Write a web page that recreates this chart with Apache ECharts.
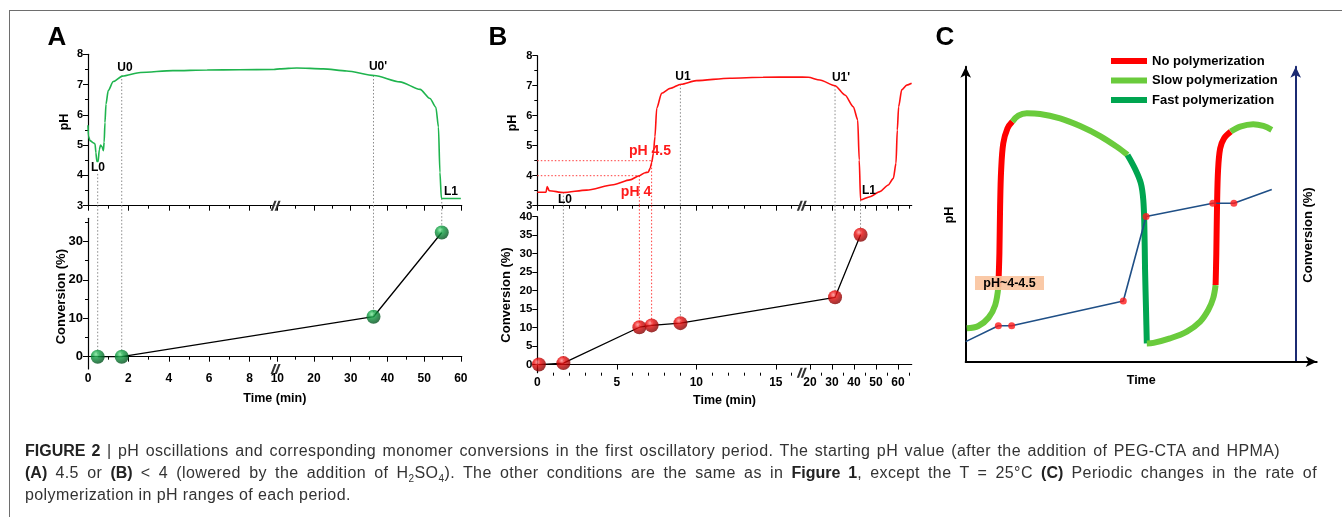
<!DOCTYPE html>
<html>
<head>
<meta charset="UTF-8">
<title>Figure 2 - pH oscillations</title>
<script src="https://cdn.jsdelivr.net/npm/echarts@6/dist/echarts.min.js"></script>
<style>
html, body { margin: 0; padding: 0; background: #fff; }
#wrap { position: relative; width: 1342px; height: 517px; overflow: hidden; }
#main { position: absolute; left: 0; top: 0; width: 1342px; height: 517px; }
#frame { position: absolute; left: 9px; top: 10px; width: 1400px; height: 600px;
         border-top: 1px solid #6e6e6e; border-left: 1px solid #6e6e6e; }
#caption { position: absolute; left: 25px; top: 440px; width: 1292px; color: #333;
           font-family: 'Liberation Sans', Arial, sans-serif; font-size: 16px; letter-spacing: 0.4px; line-height: 22px; }
#caption .j { text-align: justify; text-align-last: justify; white-space: nowrap; }
#caption b { color: #222; letter-spacing: 0; }
#caption sub { font-size: 10px; line-height: 0; }
</style>
</head>
<body>
<div id="wrap">
  <div id="frame"></div>
  <div id="main"></div>
  <div id="caption">
    <div class="j" style="width:1255px"><b>FIGURE 2</b> | pH oscillations and corresponding monomer conversions in the first oscillatory period. The starting pH value (after the addition of PEG-CTA and HPMA)</div>
    <div class="j" style="width:1292px"><b>(A)</b> 4.5 or <b>(B)</b> &lt; 4 (lowered by the addition of H<sub>2</sub>SO<sub>4</sub>). The other conditions are the same as in <b>Figure 1</b>, except the T = 25°C <b>(C)</b> Periodic changes in the rate of</div>
    <div>polymerization in pH ranges of each period.</div>
  </div>
</div>
<script>
// ---------- panel A data (time in min) ----------
var phTimeA = [0, 0.02, 0.1, 0.26, 0.35, 0.39, 0.44, 0.5, 0.56, 0.62, 0.69, 0.76, 0.8, 0.84, 0.89, 1.0, 1.25, 1.7,
               2.6, 4.2, 5.9, 7.5, 9.2, 10.7, 15.3, 22.5, 28.9, 36.4, 43.4, 48.9, 51.6, 53.2, 53.9, 54.3, 54.7, 60];
var phA = [5.66, 5.3, 5.15, 5.08, 5.04, 4.75, 4.46, 4.46, 4.85, 5.0, 4.95, 4.82, 5.1, 5.75, 6.35, 6.8, 7.1, 7.28,
           7.4, 7.46, 7.48, 7.49, 7.5, 7.52, 7.55, 7.52, 7.45, 7.3, 7.09, 6.84, 6.54, 6.25, 5.6, 4.1, 3.24, 3.24];
var convTimeA = [0.48, 1.67, 36.2, 54.8];
var convA = [0, 0, 10.4, 32.3];
var guidePhA = [4.05, 7.3, 7.3, 3.24];      // pH where each dotted guide leaves the trace
var tickMajorA = [0, 2, 4, 6, 8, 10, 20, 30, 40, 50, 60];
var tickMinorA = [1, 3, 5, 7, 9, 15, 25, 35, 45, 55];

// ---------- panel B data ----------
var phTimeB = [0, 0.55, 0.62, 0.75, 1.64, 3.1, 4.78, 5.83, 6.42, 6.78, 6.98, 7.1, 7.2, 7.3, 7.4, 7.51, 7.82, 8.35,
               9.04, 10.0, 12.1, 14.2, 16.3, 19.2, 24.5, 31.4, 35.9, 39.7, 41.7, 42.4, 43.0, 47.3, 51.8, 55.6,
               57.9, 59.1, 59.7, 60.3, 61.7, 64.0, 66.2];
var phB = [3.45, 3.45, 3.64, 3.5, 3.44, 3.52, 3.7, 3.86, 4.0, 4.1, 4.12, 4.25, 4.45, 4.75, 5.3, 6.25, 6.75, 6.91,
           7.05, 7.17, 7.25, 7.28, 7.29, 7.28, 7.19, 7.0, 6.69, 6.3, 5.86, 4.52, 3.19, 3.3, 3.47, 3.69,
           3.91, 4.41, 5.52, 6.3, 6.86, 7.02, 7.08];
var convTimeB = [0.1, 1.64, 6.42, 7.19, 9.0, 31.4, 43.0];
var convB = [0, 0.4, 10.1, 10.6, 11.2, 18.2, 35.1];
var guideTimeB = [1.64, 9.0, 31.4, 43.0];
var guidePhB = [3.45, 7.05, 7.0, 3.19];
var guideConvB = [0.4, 11.2, 18.2, 35.1];
var redTimeB = [6.42, 7.19];
var redPhB = [4, 4.5];
var redConvB = [10.1, 10.6];
var tickMajorB = [0, 5, 10, 15, 20, 30, 40, 50, 60];
var tickMinorB = [1, 2, 3, 4, 6, 7, 8, 9, 11, 12, 13, 14, 16, 25, 35, 45, 55, 65];

// ---------- panel C (schematic, arbitrary units 0-100) ----------
var slowC1 = [[0.3, 11.3], [3.6, 12.1], [6.5, 14.9], [8.4, 19.2], [9.3, 25.4]];
var noC1 = [[9.3, 25.4], [9.6, 36.7], [9.8, 52.5], [10.1, 65.0], [10.7, 74.0], [11.9, 79.1], [13.3, 81.4]];
var slowC2 = [[13.3, 81.4], [15.0, 83.4], [17.4, 84.2], [21.2, 84.0], [26.9, 82.5], [32.6, 79.9], [38.3, 76.5], [43.0, 72.9], [46.1, 70.1]];
var fastC = [[46.1, 70.1], [48.2, 65.5], [49.9, 60.5], [50.6, 54.8], [50.9, 45.8], [51.1, 31.1], [51.4, 16.4], [51.6, 6.2]];
var slowC3 = [[51.6, 6.2], [53.5, 6.4], [58.2, 7.9], [63.0, 10.2], [66.8, 13.6], [69.1, 17.5], [70.5, 21.5], [71.2, 26.0]];
var noC2 = [[71.2, 26.0], [71.4, 36.7], [71.6, 52.5], [71.9, 65.0], [72.5, 72.3], [73.6, 75.7], [75.5, 78.0]];
var slowC4 = [[75.5, 78.0], [78.2, 79.7], [81.9, 80.5], [84.8, 79.9], [87.2, 78.6]];
var convLineC = [[0, 6.8], [9.3, 12.2], [13.1, 12.2], [44.9, 20.6], [51.4, 49.2], [70.4, 53.7], [76.4, 53.7], [87.2, 58.4]];
var convDotsC = [[9.3, 12.2], [13.1, 12.2], [44.9, 20.6], [51.4, 49.2], [70.4, 53.7], [76.4, 53.7]];

var font = "'Liberation Sans', Arial, sans-serif";
var chart = echarts.init(document.getElementById('main'));

// broken time axis: two linear pieces, result in grid pixels
function breakScale(leftMax, rightMin, leftPx, rightPx, gapPx) {
    return function (t) {
        if (t <= leftMax) return t * leftPx;
        return leftMax * leftPx + gapPx + (t - rightMin) * rightPx;
    };
}
var posA = breakScale(9.2, 10, 20.2, 3.67, 3.5);
var posB = breakScale(16.4, 18, 15.9, 2.2, 7.5);

var LA = {left: 88, topT: 54.3, hT: 151.4, topB: 218.3, hB: 150.7, w: 373.7};
var LB = {left: 537.3, topT: 55.7, hT: 150, topB: 216.7, hB: 156, w: 374.4};

function timeAxes(grid, pos, w, major, minor, labels, nameGap) {
    var majorPos = major.map(pos);
    return [{
        type: 'value', gridIndex: grid, position: 'bottom', min: 0, max: w,
        axisLine: {lineStyle: {color: '#000', width: 1.2}},
        axisTick: {length: 5, customValues: majorPos, lineStyle: {color: '#000'}},
        axisLabel: {show: labels, customValues: majorPos, margin: 4, color: '#000', fontWeight: 'bold',
            fontSize: 12, fontFamily: font,
            formatter: function (v) {
                for (var i = 0; i < majorPos.length; i++) {
                    if (Math.abs(majorPos[i] - v) < 1e-6) return String(major[i]);
                }
                return '';
            }},
        splitLine: {show: false},
        name: labels ? 'Time (min)' : '', nameLocation: 'middle', nameGap: nameGap,
        nameTextStyle: {color: '#000', fontWeight: 'bold', fontSize: 12.5, fontFamily: font}
    }, {
        type: 'value', gridIndex: grid, position: 'bottom', min: 0, max: w,
        axisLine: {show: false},
        axisTick: {length: 3, customValues: minor.map(pos), lineStyle: {color: '#000'}},
        axisLabel: {show: false}, splitLine: {show: false}
    }];
}

function phAxis(grid) {
    return {
        type: 'value', gridIndex: grid, position: 'left', min: 3, max: 8, interval: 1,
        axisLine: {show: true, lineStyle: {color: '#000', width: 1.2}},
        axisTick: {show: true, length: 5, lineStyle: {color: '#000'}},
        minorTick: {show: true, splitNumber: 2, length: 3, lineStyle: {color: '#000'}},
        axisLabel: {margin: 5, color: '#000', fontWeight: 'bold', fontSize: 11, fontFamily: font},
        splitLine: {show: false}
    };
}

function convAxis(grid, min, max, ticks, size, minorTicks) {
    var ax = [{
        type: 'value', gridIndex: grid, position: 'left', min: min, max: max,
        axisLine: {show: true, lineStyle: {color: '#000', width: 1.2}},
        axisTick: {show: true, length: 5, customValues: ticks, lineStyle: {color: '#000'}},
        axisLabel: {margin: 5, customValues: ticks, color: '#000', fontWeight: 'bold', fontSize: size, fontFamily: font},
        splitLine: {show: false}
    }];
    if (minorTicks) {
        ax.push({
            type: 'value', gridIndex: grid, position: 'left', min: min, max: max,
            axisLine: {show: false},
            axisTick: {show: true, length: 3, customValues: minorTicks, lineStyle: {color: '#000'}},
            axisLabel: {show: false}, splitLine: {show: false}
        });
    }
    return ax;
}

function zip(ts, vs, pos) {
    return ts.map(function (t, i) { return [pos(t), vs[i]]; });
}

function guide(xi, yi, x, y1, y2, color) {
    return {
        type: 'line', xAxisIndex: xi, yAxisIndex: yi, data: [[x, y1], [x, y2]],
        symbol: 'none', clip: false, silent: true, z: 1,
        lineStyle: {type: [1.5, 2], color: color, width: 1}
    };
}

// shaded ball look of the markers
function sphere(hi, mid, lo) {
    return new echarts.graphic.RadialGradient(0.38, 0.32, 0.68, [
        {offset: 0, color: hi}, {offset: 0.35, color: mid}, {offset: 1, color: lo}
    ]);
}

var slashPath = 'path://M0,10L2.2,10L6,0L3.8,0Z M4,10L6.2,10L10,0L7.8,0Z';
function axisBreak(xi, yi, x, y) {
    return [{
        type: 'scatter', xAxisIndex: xi, yAxisIndex: yi, data: [[x, y]], symbol: 'rect',
        symbolSize: [6, 4], itemStyle: {color: '#fff'}, silent: true, z: 8
    }, {
        type: 'scatter', xAxisIndex: xi, yAxisIndex: yi, data: [[x, y]], symbol: slashPath,
        symbolSize: [10, 10], itemStyle: {color: '#000'}, silent: true, z: 9
    }];
}

// ---------- axes ----------
var xAxes = [].concat(
    timeAxes(0, posA, LA.w, tickMajorA, tickMinorA, false, 0),   // 0,1
    timeAxes(1, posA, LA.w, tickMajorA, tickMinorA, true, 23),   // 2,3
    timeAxes(2, posB, LB.w, tickMajorB, tickMinorB, false, 0),   // 4,5
    timeAxes(3, posB, LB.w, tickMajorB, tickMinorB, true, 21),   // 6,7
    [{
        type: 'value', gridIndex: 4, min: 0, max: 100,
        axisLine: {symbol: ['none', 'arrow'], symbolSize: [8, 11], lineStyle: {color: '#000', width: 2}},
        axisTick: {show: false}, axisLabel: {show: false}, splitLine: {show: false},
        name: 'Time', nameLocation: 'middle', nameGap: 12,
        nameTextStyle: {color: '#000', fontWeight: 'bold', fontSize: 12.5, fontFamily: font}
    }]                                                           // 8
);

var yAxes = [].concat(
    [phAxis(0)],                                                 // 0
    convAxis(1, -3.2, 36, [0, 10, 20, 30], 13, [5, 15, 25, 35]), // 1,2
    [phAxis(2)],                                                 // 3
    convAxis(3, -2.2, 40, [0, 5, 10, 15, 20, 25, 30, 35, 40], 11.5), // 4
    [{
        type: 'value', gridIndex: 4, position: 'left', min: 0, max: 100,
        axisLine: {show: true, symbol: ['none', 'arrow'], symbolSize: [8, 11], lineStyle: {color: '#000', width: 2}},
        axisTick: {show: false}, axisLabel: {show: false}, splitLine: {show: false}
    }, {
        type: 'value', gridIndex: 4, position: 'right', offset: -21, min: 0, max: 100,
        axisLine: {show: true, symbol: ['none', 'arrow'], symbolSize: [8, 11], lineStyle: {color: '#1b2a72', width: 2}},
        axisTick: {show: false}, axisLabel: {show: false}, splitLine: {show: false}
    }]                                                           // 5,6
);

// ---------- series ----------
var series = [];
var gray = '#8a8a8a', redDot = '#ff3b3b';

// A guides
var gapA = (LA.topB - (LA.topT + LA.hT)) / (LA.hB / 39.2);
convTimeA.forEach(function (t, i) {
    series.push(guide(0, 0, posA(t), guidePhA[i], 3, gray));
    series.push(guide(2, 1, posA(t), 36 + gapA, convA[i], gray));
});
// B guides
var gapB = (LB.topB - (LB.topT + LB.hT)) / (LB.hB / 42.2);
guideTimeB.forEach(function (t, i) {
    series.push(guide(4, 3, posB(t), guidePhB[i], 3, gray));
    series.push(guide(6, 4, posB(t), 40 + gapB, guideConvB[i], gray));
});
redTimeB.forEach(function (t, i) {
    series.push(guide(4, 3, posB(t), redPhB[i], 3, redDot));
    series.push(guide(6, 4, posB(t), 40 + gapB, redConvB[i], redDot));
    series.push({
        type: 'line', xAxisIndex: 4, yAxisIndex: 3, data: [[0, redPhB[i]], [posB(t), redPhB[i]]],
        symbol: 'none', silent: true, z: 1, lineStyle: {type: [1.5, 2], color: redDot, width: 1}
    });
});

// pH traces
series.push({
    type: 'line', xAxisIndex: 0, yAxisIndex: 0, data: zip(phTimeA, phA, posA), symbol: 'none',
    smooth: 0.25, smoothMonotone: 'x', lineStyle: {color: '#1fb44e', width: 1.6}, z: 3
});
series.push({
    type: 'line', xAxisIndex: 4, yAxisIndex: 3, data: zip(phTimeB, phB, posB), symbol: 'none',
    smooth: 0.25, smoothMonotone: 'x', lineStyle: {color: '#ff1010', width: 1.6}, z: 3
});

// conversion lines + spheres
series.push({
    type: 'line', xAxisIndex: 2, yAxisIndex: 1, data: zip(convTimeA, convA, posA), symbol: 'none',
    lineStyle: {color: '#000', width: 1.3}, z: 3
});
series.push({
    type: 'scatter', xAxisIndex: 2, yAxisIndex: 1, data: zip(convTimeA, convA, posA), symbolSize: 14,
    itemStyle: {color: sphere('#7ee89a', '#12a244', '#00501c')}, z: 5
});
series.push({
    type: 'line', xAxisIndex: 6, yAxisIndex: 4, data: zip(convTimeB, convB, posB), symbol: 'none',
    lineStyle: {color: '#000', width: 1.3}, z: 3
});
series.push({
    type: 'scatter', xAxisIndex: 6, yAxisIndex: 4, data: zip(convTimeB, convB, posB), symbolSize: 14,
    itemStyle: {color: sphere('#ff8f8f', '#ec0c0c', '#820000')}, z: 5
});

// axis break marks
series = series.concat(
    axisBreak(0, 0, (posA(9.2) + posA(10)) / 2, 3),
    axisBreak(2, 1, (posA(9.2) + posA(10)) / 2, -3.2),
    axisBreak(4, 3, (posB(16.4) + posB(18)) / 2, 3),
    axisBreak(6, 4, (posB(16.4) + posB(18)) / 2, -2.2)
);

// panel C
var colNo = '#ff0000', colSlow = '#6acb3c', colFast = '#00a550';
function seg(name, color, data) {
    return {
        name: name, type: 'line', xAxisIndex: 8, yAxisIndex: 5, data: data, symbol: 'none',
        smooth: 0.35, color: color, itemStyle: {color: color},
        lineStyle: {color: color, width: 6, cap: 'butt'}, z: 3
    };
}
series.push(
    seg('Slow polymerization', colSlow, slowC1),
    seg('No polymerization', colNo, noC1),
    seg('Slow polymerization', colSlow, slowC2),
    seg('Fast polymerization', colFast, fastC),
    seg('Slow polymerization', colSlow, slowC3),
    seg('No polymerization', colNo, noC2),
    seg('Slow polymerization', colSlow, slowC4)
);
series.push({
    type: 'line', xAxisIndex: 8, yAxisIndex: 6, data: convLineC, symbol: 'none',
    lineStyle: {color: '#1f4f86', width: 1.6}, z: 4
});
series.push({
    type: 'scatter', xAxisIndex: 8, yAxisIndex: 6, data: convDotsC, symbolSize: 7,
    itemStyle: {color: '#ff1a1a'}, z: 5
});

// ---------- text annotations ----------
function txt(x, y, s, opt) {
    opt = opt || {};
    return {
        type: 'text', x: x, y: y, rotation: opt.rot || 0, z: 20,
        style: {text: s, fill: opt.color || '#000', fontFamily: font, fontWeight: 'bold',
                fontSize: opt.size || 12, align: 'center', verticalAlign: 'middle'}
    };
}
var graphics = [
    txt(57, 38, 'A', {size: 26}), txt(498, 38, 'B', {size: 26}), txt(945, 38, 'C', {size: 26}),
    txt(65, 122, 'pH', {rot: Math.PI / 2, size: 12.5}),
    txt(61.7, 296.7, 'Conversion (%)', {rot: Math.PI / 2, size: 13}),
    txt(513, 123, 'pH', {rot: Math.PI / 2, size: 12.5}),
    txt(506.7, 295, 'Conversion (%)', {rot: Math.PI / 2, size: 13}),
    txt(125, 68, 'U0'), txt(378, 67, "U0'"), txt(98, 168, 'L0'), txt(451, 192, 'L1'),
    txt(683, 77, 'U1'), txt(841, 78, "U1'"), txt(565, 200, 'L0'), txt(869, 191, 'L1'),
    txt(650, 151, 'pH 4.5', {color: '#ff1a1a', size: 14}),
    txt(636, 192, 'pH 4', {color: '#ff1a1a', size: 14}),
    txt(950, 215, 'pH', {rot: Math.PI / 2, size: 12.5}),
    txt(1308, 235, 'Conversion (%)', {rot: Math.PI / 2, size: 13}),
    {type: 'rect', shape: {x: 975, y: 276, width: 69, height: 14}, z: 18,
     style: {fill: 'rgba(250,196,160,0.92)'}},
    txt(1009.5, 283.5, 'pH~4-4.5', {size: 12.5})
];

var option = {
    animation: false,
    backgroundColor: 'transparent',
    grid: [
        {left: LA.left, top: LA.topT, width: LA.w, height: LA.hT, outerBoundsMode: 'none'},
        {left: LA.left, top: LA.topB, width: LA.w, height: LA.hB, outerBoundsMode: 'none'},
        {left: LB.left, top: LB.topT, width: LB.w, height: LB.hT, outerBoundsMode: 'none'},
        {left: LB.left, top: LB.topB, width: LB.w, height: LB.hB, outerBoundsMode: 'none'},
        {left: 965.7, top: 66.7, width: 351, height: 295, outerBoundsMode: 'none'}
    ],
    legend: {
        data: ['No polymerization', 'Slow polymerization', 'Fast polymerization'],
        orient: 'vertical', left: 1106, top: 49, itemWidth: 36, itemHeight: 6, itemGap: 5.5,
        icon: 'rect', selectedMode: false,
        textStyle: {color: '#000', fontWeight: 'bold', fontSize: 13, fontFamily: font, lineHeight: 14}
    },
    xAxis: xAxes,
    yAxis: yAxes,
    series: series,
    graphic: graphics
};
chart.setOption(option);
</script>
</body>
</html>
